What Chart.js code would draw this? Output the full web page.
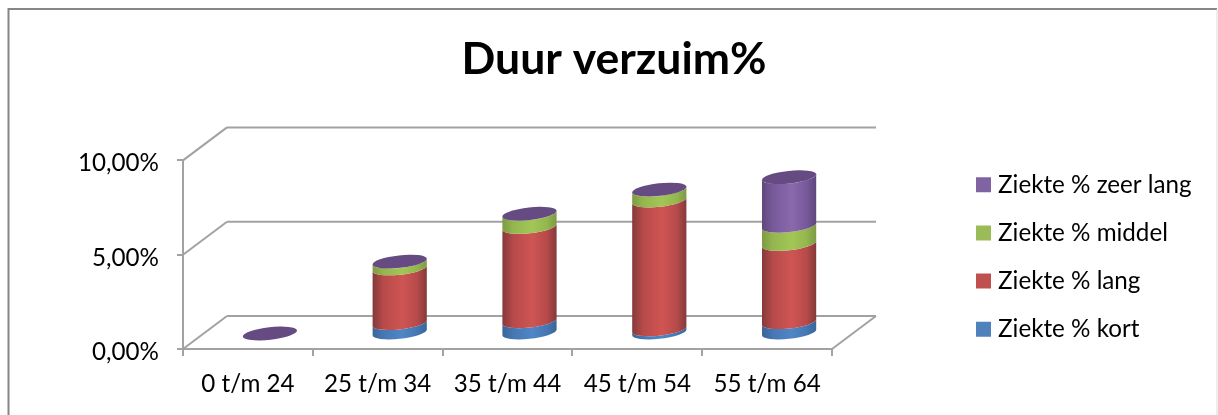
<!DOCTYPE html>
<html>
<head>
<meta charset="utf-8">
<title>Duur verzuim%</title>
<script src="https://cdn.jsdelivr.net/npm/chart.js@4"></script>
<style>
  html, body { margin: 0; padding: 0; background: #fff; }
  #wrap { width: 1218px; height: 415px; }
</style>
</head>
<body>
<div id="wrap"><canvas id="chart" width="1218" height="415"></canvas></div>
<script>
const categories = ['0 t/m 24', '25 t/m 34', '35 t/m 44', '45 t/m 54', '55 t/m 64'];
const kort = [0, 0.55, 0.65, 0.22, 0.6];
const lang = [0, 2.9, 5.0, 6.83, 4.15];
const middel = [0, 0.36, 0.7, 0.58, 0.96];
const zeerLang = [0, 0, 0, 0, 2.58];
const yTicks = [0, 5, 10];

const FONT = 'Lato, Carlito, sans-serif';
const AXIS_GREY = '#a2a2a2';
const FRAME_GREY = '#868686';
// how far the back wall sits behind the front of the floor, in px
const DEPTH_X = 44;
const DEPTH_Y = 33;
// cylinders stand a bit in front of the middle of the floor
const STAND_Y = 15.5;
const FRONT_RIGHT = 832;

function comma(v) { return v.toFixed(2).replace('.', ',') + '%'; }

function line(ctx, x1, y1, x2, y2) {
  ctx.beginPath();
  ctx.moveTo(x1, y1);
  ctx.lineTo(x2, y2);
  ctx.stroke();
}

function drawWalls(chart) {
  const { ctx, chartArea: a } = chart;
  const y = chart.scales.y;
  ctx.save();
  ctx.strokeStyle = AXIS_GREY;
  ctx.lineWidth = 2;
  yTicks.forEach(v => {
    const py = y.getPixelForValue(v);
    line(ctx, a.left, py, a.left + DEPTH_X, py - DEPTH_Y);
    line(ctx, a.left + DEPTH_X, py - DEPTH_Y, a.right + DEPTH_X, py - DEPTH_Y);
  });
  line(ctx, a.right, a.bottom, a.right + DEPTH_X, a.bottom - DEPTH_Y);
  ctx.restore();
}

// side of one stack piece, with the round shading of the 3D cylinder
function drawBand(ctx, cx, yTop, yBot, rx, ry, rot, shades) {
  const t0 = Math.atan2(-ry * Math.sin(rot), rx * Math.cos(rot));
  const grad = ctx.createLinearGradient(cx - rx, 0, cx + rx, 0);
  grad.addColorStop(0, shades[0]);
  grad.addColorStop(0.2, shades[1]);
  grad.addColorStop(0.55, shades[2]);
  grad.addColorStop(0.82, shades[1]);
  grad.addColorStop(1, shades[0]);
  ctx.fillStyle = grad;
  ctx.beginPath();
  ctx.ellipse(cx, yBot, rx, ry, rot, t0, t0 + Math.PI, false);
  ctx.ellipse(cx, yTop, rx, ry, rot, t0 + Math.PI, t0, true);
  ctx.closePath();
  ctx.fill();
}

const cylinderShades = [
  ['#38659b', '#4577b3', '#4f86c6'],
  ['#84393a', '#b74a4a', '#cf5553'],
  ['#7d9a43', '#94b64f', '#a2c656'],
  ['#5f477c', '#77599a', '#8a69ad']
];
const TOP_FACE = '#654b82';
const TILT = -0.11;
const FLATNESS = 0.23;

const cylinders = {
  id: 'cylinders',
  beforeDatasetsDraw(chart) {
    drawWalls(chart);
    const { ctx } = chart;
    const metas = chart.data.datasets.map((d, i) => chart.getDatasetMeta(i));
    categories.forEach((c, i) => {
      let top = null, rx = 0, cx = 0;
      metas.forEach((meta, s) => {
        const bar = meta.data[i];
        rx = bar.width / 2;
        cx = bar.x + DEPTH_X / 2;
        const yTop = bar.y - STAND_Y;
        const yBot = bar.base - STAND_Y;
        if (yBot - yTop > 0.1) drawBand(ctx, cx, yTop, yBot, rx, rx * FLATNESS, TILT, cylinderShades[s]);
        top = yTop;
      });
      ctx.fillStyle = TOP_FACE;
      ctx.beginPath();
      ctx.ellipse(cx, top, rx, rx * FLATNESS, TILT, 0, Math.PI * 2);
      ctx.fill();
    });
    return false;
  }
};

// frame round the chart, and moving title + legend to where the original has them
const placement = {
  id: 'placement',
  afterLayout(chart) {
    const lg = chart.legend;
    const w = lg.width;
    lg.left = 957;
    lg.right = lg.left + w;
    lg.top = 257 - 115;
    lg.bottom = 257 + 115;
    chart.titleBlock.left = 10;
    chart.titleBlock.right = 1218;
  },
  beforeDraw(chart) {
    const { ctx } = chart;
    ctx.save();
    ctx.strokeStyle = FRAME_GREY;
    ctx.lineWidth = 2;
    line(ctx, 8, 9, 1217, 9);
    line(ctx, 8.5, 8, 8.5, 415);
    ctx.strokeStyle = '#dcdcdc';
    ctx.lineWidth = 1;
    line(ctx, 1217, 9, 1217, 415);
    ctx.restore();
  }
};

const chart = new Chart(document.getElementById('chart'), {
  type: 'bar',
  data: {
    labels: categories,
    datasets: [
      { label: 'Ziekte % kort', data: kort, backgroundColor: '#4f81bd' },
      { label: 'Ziekte % lang', data: lang, backgroundColor: '#c0504d' },
      { label: 'Ziekte % middel', data: middel, backgroundColor: '#9bbb59' },
      { label: 'Ziekte % zeer lang', data: zeerLang, backgroundColor: '#8064a2' }
    ]
  },
  options: {
    responsive: false,
    animation: false,
    borderWidth: 0,
    barPercentage: 0.42,
    categoryPercentage: 1,
    layout: { padding: { left: 0, top: 0, bottom: 0, right: 0 } },
    plugins: {
      tooltip: { enabled: false },
      title: {
        display: true,
        text: 'Duur verzuim%',
        color: '#000',
        font: { family: FONT, size: 44.5, weight: 'bold' },
        padding: { top: 33, bottom: 74 }
      },
      legend: {
        position: 'right',
        reverse: true,
        maxWidth: 320,
        labels: {
          usePointStyle: true,
          pointStyle: 'rect',
          boxWidth: 5,
          boxHeight: 15,
          padding: 24,
          color: '#000',
          font: { family: FONT, size: 24.2 }
        }
      }
    },
    scales: {
      x: {
        stacked: true,
        afterFit(s) { s.height = 66; },
        grid: { offset: true, drawOnChartArea: false, drawTicks: true, tickLength: 7, color: AXIS_GREY, lineWidth: 2 },
        border: { color: AXIS_GREY, width: 2 },
        ticks: { color: '#000', font: { family: FONT, size: 24.2 }, padding: 14, maxRotation: 0 }
      },
      y: {
        stacked: true,
        min: 0,
        max: 10,
        afterFit(s) { s.width = 183; },
        afterBuildTicks(s) { s.ticks = yTicks.map(v => ({ value: v })); },
        grid: { drawOnChartArea: false, drawTicks: true, tickLength: 6, color: AXIS_GREY, lineWidth: 2 },
        border: { color: AXIS_GREY, width: 2 },
        ticks: { color: '#000', font: { family: FONT, size: 24.2 }, padding: 18, labelOffset: 3, callback: comma }
      }
    }
  },
  plugins: [cylinders, placement]
});

// the room right of the front axis depends on the measured legend width
chart.options.layout.padding.right = 1218 - FRONT_RIGHT - chart.legend.width;
chart.update();
</script>
</body>
</html>
